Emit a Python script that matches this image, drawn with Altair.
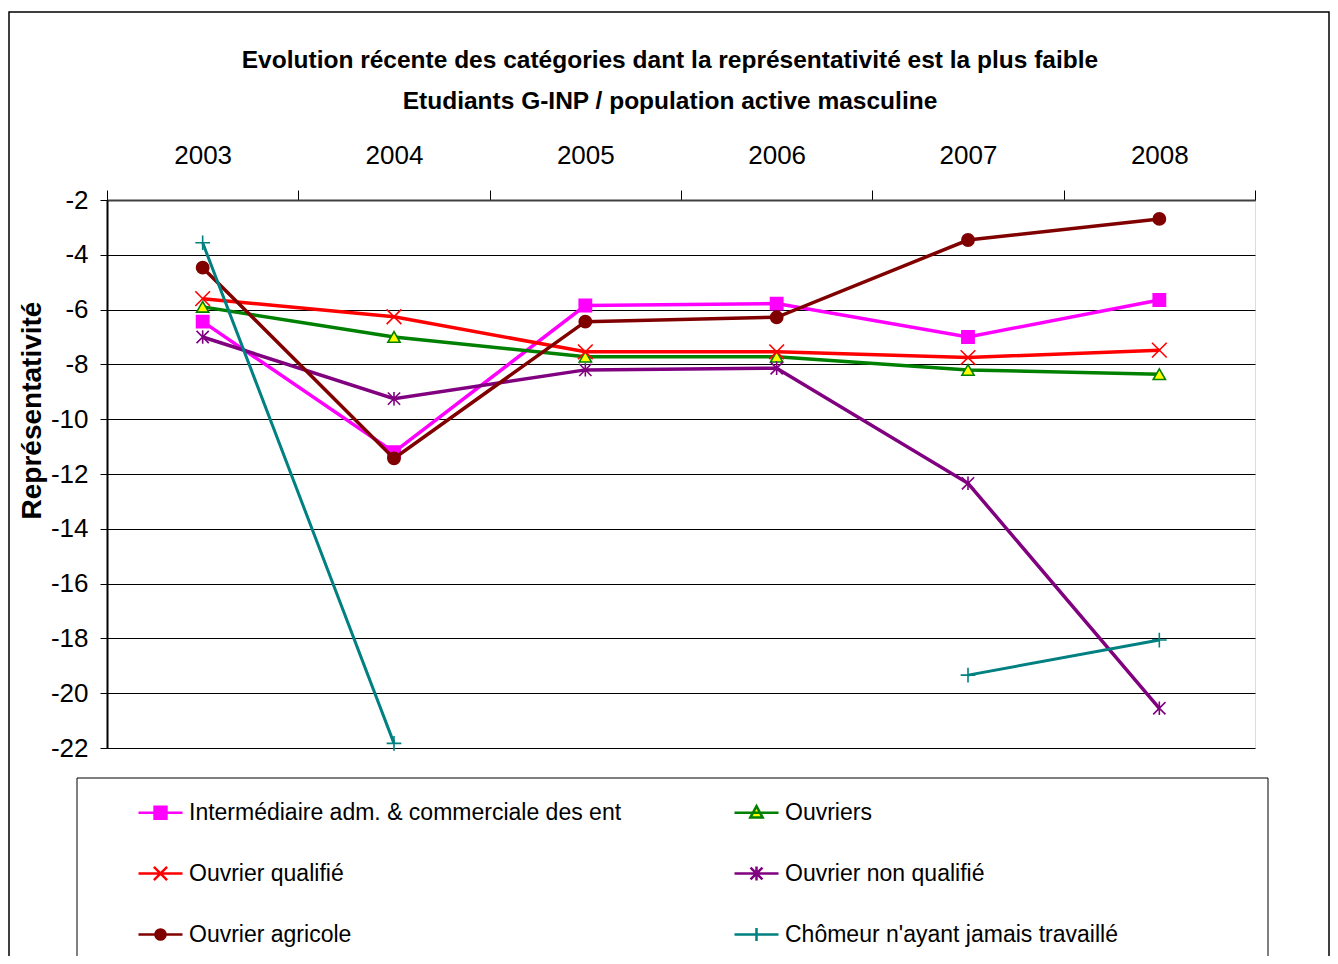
import altair as alt
import pandas as pd

# ---------------- data ----------------
years = ["2003", "2004", "2005", "2006", "2007", "2008"]
series = [
    "Intermédiaire adm. & commerciale des ent",
    "Ouvriers",
    "Ouvrier qualifié",
    "Ouvrier non qualifié",
    "Ouvrier agricole",
    "Chômeur n'ayant jamais travaillé",
]
intermediaire = [-6.44, -11.2, -5.85, -5.78, -7.0, -5.65]
ouvriers = [-5.9, -7.0, -7.72, -7.72, -8.2, -8.36]
ouvrier_qualifie = [-5.6, -6.26, -7.54, -7.54, -7.75, -7.48]
ouvrier_non_qualifie = [-7.0, -9.25, -8.2, -8.14, -12.34, -20.55]
ouvrier_agricole = [-4.47, -11.43, -6.44, -6.28, -3.46, -2.69]
chomeur = [-3.56, -21.83, None, None, -19.34, -18.06]
values = [intermediaire, ouvriers, ouvrier_qualifie, ouvrier_non_qualifie,
          ouvrier_agricole, chomeur]
y_ticks = [-2, -4, -6, -8, -10, -12, -14, -16, -18, -20, -22]

# legend reading order (filled column by column, 3 rows x 2 columns)
legend_order = [
    "Intermédiaire adm. & commerciale des ent",
    "Ouvrier qualifié",
    "Ouvrier agricole",
    "Ouvriers",
    "Ouvrier non qualifié",
    "Chômeur n'ayant jamais travaillé",
]

title_lines = [
    "Evolution récente des catégories dant la représentativité est la plus faible",
    "Etudiants G-INP / population active masculine",
]
y_title = "Représentativité"

# ---------------- styles ----------------
colors = ["#FF00FF", "#008000", "#FF0000", "#800080", "#800000", "#008080"]
fills = ["#FF00FF", "#FFFF00", "transparent", "transparent", "#800000", "transparent"]
line_widths = [3.5, 3.5, 3.5, 3.5, 3.5, 3]
point_shapes = [
    "square",
    "triangle-up",
    "M-1.2,-1.2L1.2,1.2M-1.2,1.2L1.2,-1.2",
    "M-1,-1L1,1M-1,1L1,-1M0,-1.1L0,1.1",
    "circle",
    "M-1.2,0L1.2,0M0,-1.2L0,1.2",
]
legend_shapes = [
    "M-1,0H1M-0.27,-0.27H0.27V0.27H-0.27Z",
    "M-1,0H1M0,-0.3L0.28,0.22L-0.28,0.22Z",
    "M-1,0H1M-0.3,-0.3L0.3,0.3M-0.3,0.3L0.3,-0.3",
    "M-1,0H1M-0.27,-0.27L0.27,0.27M-0.27,0.27L0.27,-0.27M0,-0.32L0,0.32",
    "M-1,0H1M0.23,0A0.23,0.23 0 1 1 -0.23,0A0.23,0.23 0 1 1 0.23,0Z",
    "M-1,0H1M0,-0.3L0,0.3",
]

SANS = "Liberation Sans, Arial, sans-serif"

rows = []
for name, vals in zip(series, values):
    for yr, v in zip(years, vals):
        rows.append({"year": yr, "series": name, "value": v})
df = pd.DataFrame(rows)

# scale ranges re-ordered to the legend order
idx = [series.index(s) for s in legend_order]
leg_colors = [colors[i] for i in idx]
leg_fills = [fills[i] for i in idx]
leg_shapes = [legend_shapes[i] for i in idx]

leg = alt.Legend(
    title=None,
    orient="none",
    legendX=30,
    legendY=589,
    columns=2,
    columnPadding=107,
    rowPadding=25,
    symbolSize=1936,
    symbolStrokeWidth=2.5,
    symbolOpacity=1,
    symbolFillColor="transparent",
    symbolStrokeColor="black",
    labelFont=SANS,
    labelFontSize=23,
    labelColor="black",
    labelOffset=5,
    labelLimit=800,
    padding=0,
)

x_enc = alt.X(
    "year:O",
    scale=alt.Scale(type="band", domain=years, paddingInner=0, paddingOuter=0),
    bandPosition=0.5,
    axis=alt.Axis(
        orient="top", title=None, labelAngle=0, labelFont=SANS, labelFontSize=26,
        labelColor="black", labelPadding=22, tickBand="extent", tickSize=10,
        tickColor="black", domainColor="#404040", domainWidth=2, ticks=True,
    ),
)
y_enc = alt.Y(
    "value:Q",
    scale=alt.Scale(domain=[-22, -2], nice=False, zero=False),
    axis=alt.Axis(
        values=y_ticks, labelExpr="'' + datum.value",
        title=y_title, titleFont=SANS, titleFontSize=28,
        titleFontWeight="bold", titleColor="black", titleX=-75, titleY=210,
        titleAlign="center", titleBaseline="middle", titleAngle=270,
        labelFont=SANS, labelFontSize=26, labelColor="black", labelPadding=12,
        tickSize=7, tickColor="black", domainColor="black", domainWidth=2,
        grid=True, gridColor="black", gridWidth=1, gridOpacity=1,
    ),
)

series_layers = []
for name, col, fl, shp, lw in zip(series, colors, fills, point_shapes, line_widths):
    base = alt.Chart(df).transform_filter(alt.datum.series == name)
    series_layers.append(
        base.mark_line(stroke=col, strokeWidth=lw, invalid="break-paths-show-domains")
        .encode(x=x_enc, y=y_enc)
    )
    series_layers.append(
        base.mark_point(shape=shp, stroke=col, fill=fl, size=150, strokeWidth=1.6, opacity=1)
        .encode(x=x_enc, y=y_enc)
    )

# zero-size layer that only carries the legend (line + marker symbols)
legend_layer = alt.Chart(df).mark_point(size=0, strokeWidth=2.5).encode(
    x=x_enc, y=y_enc,
    stroke=alt.Stroke("series:N", scale=alt.Scale(domain=legend_order, range=leg_colors),
                      sort=legend_order, legend=leg),
    fill=alt.Fill("series:N", scale=alt.Scale(domain=legend_order, range=leg_fills),
                  sort=legend_order, legend=leg),
    shape=alt.Shape("series:N", scale=alt.Scale(domain=legend_order, range=leg_shapes),
                    sort=legend_order, legend=leg),
)

# decorative frames (chart border and legend box)
frame_df = pd.DataFrame({"k": [0]})
outer = alt.Chart(frame_df).mark_rect(clip=False, fill="transparent", stroke="black",
                                      strokeWidth=1.5).encode(
    x=alt.value(-98), x2=alt.value(1222), y=alt.value(-188), y2=alt.value(780))
legbox = alt.Chart(frame_df).mark_rect(clip=False, fill="transparent", stroke="black",
                                       strokeWidth=1).encode(
    x=alt.value(-30), x2=alt.value(1161), y=alt.value(578), y2=alt.value(800))

chart = alt.layer(outer, legbox, *series_layers, legend_layer).properties(
    width=1148,
    height=548,
    autosize=alt.AutoSizeParams(type="none"),
    padding={"left": 99, "top": 192, "right": 75, "bottom": 208},
    title=alt.TitleParams(
        text=title_lines, font=SANS, fontSize=24.5, fontWeight="bold", color="black",
        lineHeight=41, anchor="middle", dx=-11, offset=-103,
    ),
).configure_view(
    fill="#C0C0C0", stroke="#808080", strokeWidth=2
).configure(background="white")

chart.save("out.html", embed_options={"renderer": "svg", "actions": False})
